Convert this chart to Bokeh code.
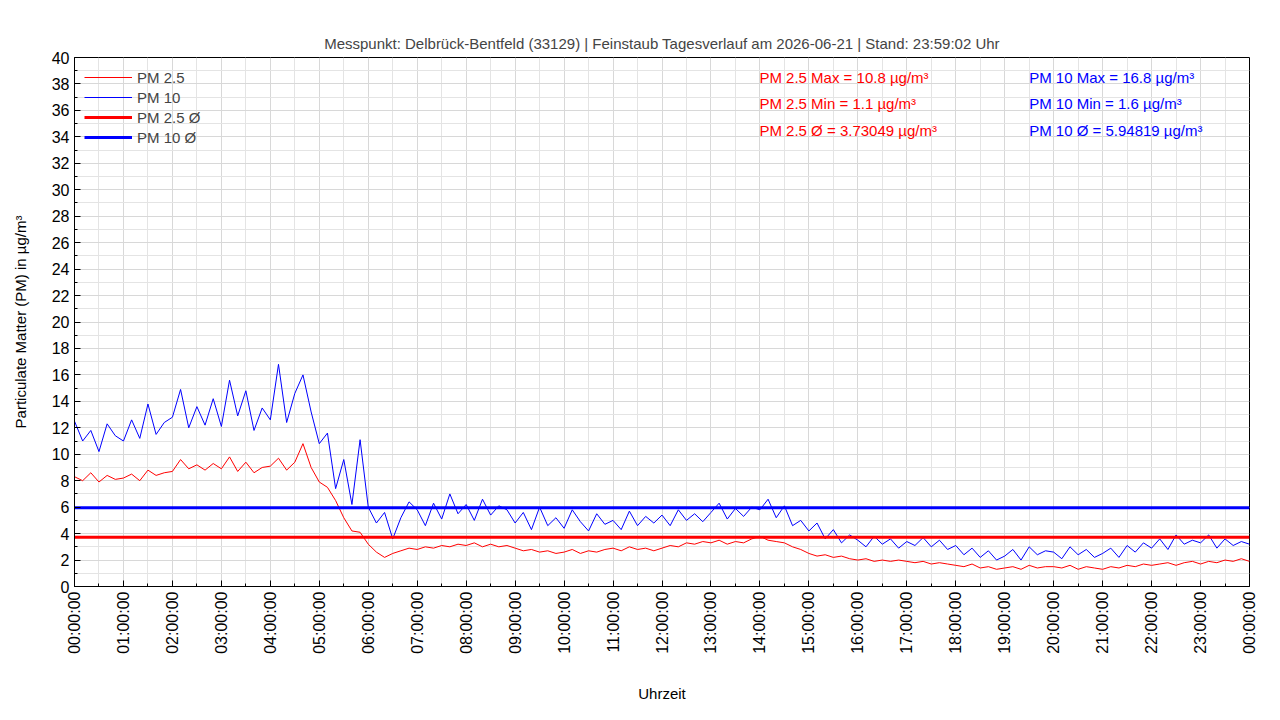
import math
from bokeh.plotting import figure
from bokeh.models import Legend, LegendItem, Label, FixedTicker
from bokeh.embed import file_html
from bokeh.resources import INLINE

# 10-minute samples, 00:00 .. 24:00
pm10 = [
    12.5, 11.0, 11.8, 10.2, 12.3, 11.4,
    11.0, 12.6, 11.2, 13.8, 11.5, 12.4,
    12.8, 14.9, 12.0, 13.6, 12.2, 14.2,
    12.1, 15.6, 12.9, 14.8, 11.8, 13.5,
    12.6, 16.8, 12.4, 14.6, 16.0, 13.2,
    10.8, 11.6, 7.4, 9.6, 6.2, 11.1,
    6.0, 4.8, 5.6, 3.6, 5.2, 6.4,
    5.8, 4.6, 6.3, 5.1, 7.0, 5.5,
    6.2, 5.0, 6.6, 5.4, 6.1, 5.8,
    4.8, 5.6, 4.3, 6.0, 4.6, 5.2,
    4.4, 5.8, 4.9, 4.2, 5.5, 4.7,
    5.0, 4.3, 5.7, 4.6, 5.3, 4.8,
    5.4, 4.6, 5.8, 5.0, 5.5, 4.9,
    5.6, 6.3, 5.1, 5.9, 5.3, 6.0,
    5.8, 6.6, 5.2, 6.1, 4.6, 5.0,
    4.2, 4.8, 3.6, 4.3, 3.3, 3.9,
    3.5, 3.0, 3.8, 3.2, 3.6, 2.9,
    3.4, 3.1, 3.7, 3.0, 3.5, 2.8,
    3.1, 2.4, 2.9, 2.2, 2.7, 2.0,
    2.3, 2.8, 2.0, 3.0, 2.4, 2.7,
    2.6, 2.1, 3.0, 2.4, 2.8, 2.2,
    2.5, 2.9, 2.2, 3.1, 2.6, 3.3,
    2.9, 3.6, 2.8, 3.9, 3.2, 3.5,
    3.3, 3.9, 2.9, 3.6, 3.1, 3.4,
    3.2,
]
pm25 = [
    8.3, 8.0, 8.6, 7.9, 8.4, 8.1,
    8.2, 8.5, 8.0, 8.8, 8.4, 8.6,
    8.7, 9.6, 8.9, 9.2, 8.8, 9.3,
    8.9, 9.8, 8.7, 9.4, 8.6, 9.0,
    9.1, 9.7, 8.8, 9.4, 10.8, 9.0,
    7.9, 7.5, 6.5, 5.2, 4.2, 4.1,
    3.2, 2.6, 2.2, 2.5, 2.7, 2.9,
    2.8, 3.0, 2.9, 3.1, 3.0, 3.2,
    3.1, 3.3, 3.0, 3.2, 3.0, 3.1,
    2.9, 2.7, 2.8, 2.6, 2.7, 2.5,
    2.6, 2.8, 2.5, 2.7, 2.6, 2.8,
    2.9, 2.7, 3.0, 2.8, 2.9, 2.7,
    2.9, 3.1, 3.0, 3.3, 3.2, 3.4,
    3.3, 3.5, 3.2, 3.4, 3.3, 3.6,
    3.8, 3.5, 3.4, 3.3, 3.0, 2.8,
    2.5, 2.3, 2.4, 2.2, 2.3, 2.1,
    2.0, 2.1, 1.9, 2.0, 1.9, 2.0,
    1.9, 1.8, 1.9, 1.7, 1.8, 1.7,
    1.6, 1.5, 1.7, 1.4, 1.5, 1.3,
    1.4, 1.5, 1.3, 1.6, 1.4, 1.5,
    1.5, 1.4, 1.6, 1.3, 1.5, 1.4,
    1.3, 1.5, 1.4, 1.6, 1.5, 1.7,
    1.6, 1.7, 1.8, 1.6, 1.8, 1.9,
    1.7, 1.9, 1.8, 2.0, 1.9, 2.1,
    1.9,
]
hours = [i / 6 for i in range(len(pm10))]
mean25, mean10 = 3.73049, 5.94819
stats25 = ["PM 2.5 Max = 10.8 µg/m³", "PM 2.5 Min = 1.1 µg/m³", "PM 2.5 Ø = 3.73049 µg/m³"]
stats10 = ["PM 10 Max = 16.8 µg/m³", "PM 10 Min = 1.6 µg/m³", "PM 10 Ø = 5.94819 µg/m³"]
tick_labels = {h: "%02d:00:00" % (h % 24) for h in range(25)}

FONT = "Liberation Sans"

p = figure(width=1264, height=704, x_range=(0, 24), y_range=(0, 40),
           output_backend="svg", toolbar_location=None,
           min_border_left=74, min_border_right=15, min_border_top=57, min_border_bottom=106,
           title="Messpunkt: Delbrück-Bentfeld (33129) | Feinstaub Tagesverlauf am 2026-06-21 | Stand: 23:59:02 Uhr")
p.title.align = "center"
p.title.text_font = FONT
p.title.text_font_size = "15px"
p.title.text_font_style = "normal"
p.title.standoff = 12
p.outline_line_color = "black"

p.xaxis.ticker = FixedTicker(ticks=list(range(25)), minor_ticks=[h + 0.5 for h in range(24)])
p.xaxis.major_label_overrides = tick_labels
p.xaxis.major_label_orientation = math.pi / 2
p.yaxis.ticker = FixedTicker(ticks=list(range(0, 41, 2)), minor_ticks=list(range(1, 40, 2)))
for ax in (p.xaxis, p.yaxis):
    ax.major_label_text_font = FONT
    ax.major_label_text_font_size = "16px"
    ax.major_label_text_color = "black"
    ax.axis_label_text_font = FONT
    ax.axis_label_text_font_size = "15px"
    ax.axis_label_text_font_style = "normal"
    ax.axis_label_text_color = "black"
    ax.major_tick_in = 6
    ax.major_tick_out = 0
    ax.minor_tick_in = 3
    ax.minor_tick_out = 0
p.xaxis.axis_label = "Uhrzeit"
p.xaxis.axis_label_standoff = 28
p.yaxis.axis_label = "Particulate Matter (PM) in µg/m³"
p.yaxis.axis_label_standoff = 20
for g in (p.xgrid, p.ygrid):
    g.grid_line_color = "#d8d8d8"
    g.minor_grid_line_color = "#e4e4e4"

r25 = p.line(hours, pm25, line_color="red", line_width=1)
r10 = p.line(hours, pm10, line_color="blue", line_width=1)
m25 = p.line([0, 24], [mean25, mean25], line_color="red", line_width=3)
m10 = p.line([0, 24], [mean10, mean10], line_color="blue", line_width=3)

legend = Legend(items=[LegendItem(label="PM 2.5", renderers=[r25]),
                       LegendItem(label="PM 10", renderers=[r10]),
                       LegendItem(label="PM 2.5 Ø", renderers=[m25]),
                       LegendItem(label="PM 10 Ø", renderers=[m10])],
                location="top_left", border_line_alpha=0, background_fill_alpha=0,
                label_text_font=FONT, label_text_font_size="15px",
                glyph_width=48, spacing=-3, margin=6, padding=4, label_height=16)
p.add_layout(legend)

for i, (a, b) in enumerate(zip(stats25, stats10)):
    y = 38.5 - 2 * i
    p.add_layout(Label(x=13.99, y=y, text=a, text_color="red", text_font=FONT,
                       text_font_size="15px", text_baseline="middle"))
    p.add_layout(Label(x=19.5, y=y, text=b, text_color="blue", text_font=FONT,
                       text_font_size="15px", text_baseline="middle"))

open("out.html", "w").write(file_html(p, INLINE))
